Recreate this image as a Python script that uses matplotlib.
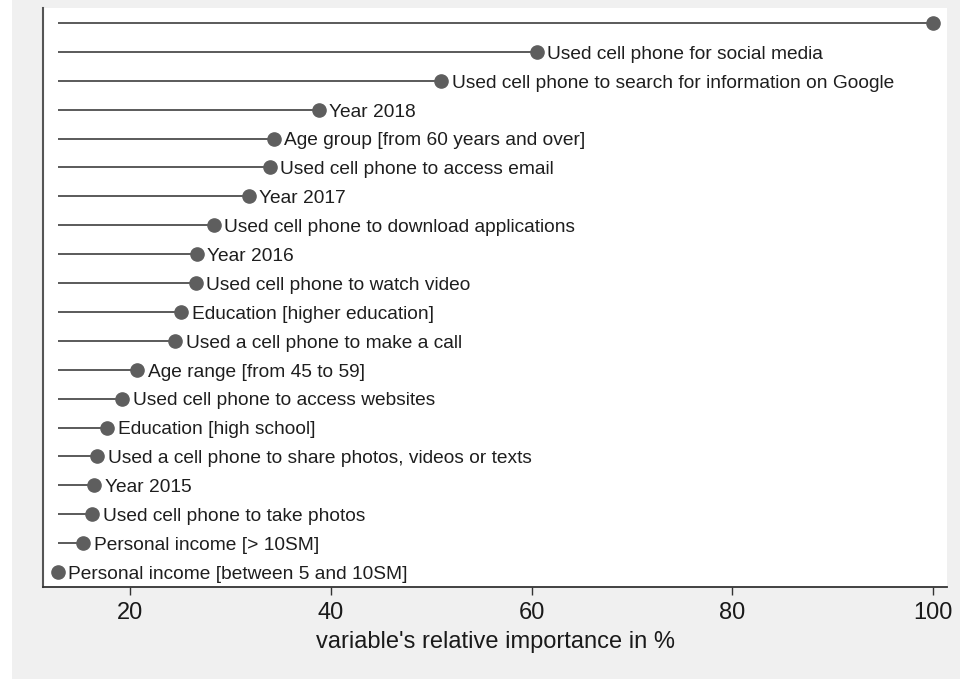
import matplotlib.pyplot as plt
from matplotlib.patches import Rectangle

labels = [
    "",
    "Used cell phone for social media",
    "Used cell phone to search for information on Google",
    "Year 2018",
    "Age group [from 60 years and over]",
    "Used cell phone to access email",
    "Year 2017",
    "Used cell phone to download applications",
    "Year 2016",
    "Used cell phone to watch video",
    "Education [higher education]",
    "Used a cell phone to make a call",
    "Age range [from 45 to 59]",
    "Used cell phone to access websites",
    "Education [high school]",
    "Used a cell phone to share photos, videos or texts",
    "Year 2015",
    "Used cell phone to take photos",
    "Personal income [> 10SM]",
    "Personal income [between 5 and 10SM]",
]
importance = [100.0, 60.5, 51.0, 38.8, 34.3, 33.9, 31.8, 28.3, 26.6, 26.5,
              25.1, 24.5, 20.7, 19.2, 17.7, 16.7, 16.4, 16.2, 15.3, 12.8]
xticks = [20, 40, 60, 80, 100]

plt.rcParams['font.family'] = ['Liberation Sans', 'DejaVu Sans']

fig = plt.figure(figsize=(9.6, 6.79), dpi=100, facecolor='#f0f0f0')
fig.patches.append(Rectangle((0, 0), 12 / 960, 1, transform=fig.transFigure,
                             facecolor='white', edgecolor='none', zorder=-1))
ax = fig.add_axes([43 / 960, 1 - 587 / 679, (947 - 43) / 960, (587 - 8) / 679])
ax.set_facecolor('white')

n = len(labels)
ypos = [n - 1 - i for i in range(n)]
start = min(importance)

ax.hlines(ypos, start, importance, color='#5a5a5a', linewidth=1.4, zorder=2)
ax.plot(importance, ypos, 'o', color='#5e5e5e', markersize=9.5, zorder=3)
for y, v, lab in zip(ypos, importance, labels):
    if lab:
        # baseline shifted down by half the cap height so the capitals sit centred on the dot
        ax.annotate(lab, (v, y), xytext=(7.5, -4.9), textcoords='offset points',
                    va='baseline', ha='left', fontsize=13.8, color='#1e1e1e')

ax.set_xlim(11.3, 101.4)
ax.set_ylim(-0.52, n - 1 + 0.52)
ax.set_xticks(xticks)
ax.set_yticks([])
ax.tick_params(axis='x', direction='out', length=6, width=1.0, colors='#333333',
               labelsize=17, labelcolor='#1a1a1a', pad=5)
ax.set_xlabel("variable's relative importance in %", fontsize=17, color='#1a1a1a', labelpad=5)

for s in ['top', 'right']:
    ax.spines[s].set_visible(False)
ax.spines['left'].set_color('#555555')
ax.spines['left'].set_linewidth(1.5)
ax.spines['bottom'].set_color('#333333')
ax.spines['bottom'].set_linewidth(1.3)

fig.savefig('out.png', dpi=100, facecolor=fig.get_facecolor())
